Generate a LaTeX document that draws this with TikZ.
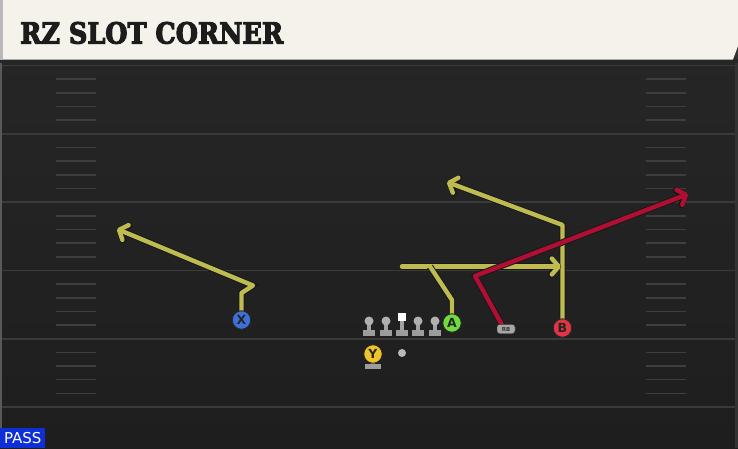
\documentclass[tikz,border=0pt]{standalone}
\usepackage{graphicx}
\usepackage{fontspec}
\setmainfont{DejaVu Sans}
\newfontfamily\titlefont[BoldFeatures={FakeBold=4}]{DejaVu Serif}
\usetikzlibrary{arrows.meta}
\definecolor{fieldtop}{RGB}{39,39,39}
\definecolor{fieldbot}{RGB}{30,30,30}
\definecolor{titlebg}{RGB}{244,242,234}
\definecolor{titlefg}{RGB}{28,28,28}
\definecolor{yardcol}{RGB}{58,58,58}
\definecolor{hashcol}{RGB}{62,62,62}
\definecolor{routeyel}{RGB}{190,187,80}
\definecolor{routered}{RGB}{176,14,50}
\definecolor{passblue}{RGB}{14,46,214}
\definecolor{xblue}{RGB}{62,112,218}
\definecolor{ygold}{RGB}{240,196,40}
\definecolor{agreen}{RGB}{112,218,62}
\definecolor{bred}{RGB}{226,52,66}
\begin{document}
\begin{tikzpicture}[x=1pt,y=-1pt,
  yard/.style={draw=yardcol, line width=1.8pt},
  hash/.style={draw=hashcol, line width=1.6pt},
  route/.style={draw=#1, line width=4.4pt, line join=round, line cap=round,
    preaction={draw=black!90, line width=6.4pt}},
  tip/.style={-{Straight Barb[length=7pt,width=16pt,round]}},
  player/.style={circle, fill=#1, draw=black!85, line width=0.9pt, minimum size=18.5pt,
    inner sep=0pt, font=\bfseries\fontsize{12.5}{12.5}\selectfont, text=black!85},
  head/.style={circle, fill=gray!62, minimum size=9pt, inner sep=0pt},
  basecol/.style={fill=gray!78}
]
\useasboundingbox (0,0) rectangle (738,448);
% field
\shade[top color=fieldtop, bottom color=fieldbot] (0,0) rectangle (738,448);
\fill[black!65] (0,59) rectangle (2,448);
\fill[black!80] (735,0) rectangle (738,448);
% title bar
\fill[black!85] (0,59) rectangle (738,63);
\fill[titlebg] (2,0) -- (738,0) -- (738,46) -- (733,59.5) -- (2,59.5) -- cycle;
\fill[gray!55] (0,0) rectangle (2.5,59.5);
\node[anchor=base west, inner sep=0pt, text=titlefg] (title) at (20,43.5)
  {\resizebox{263pt}{21.5pt}{\titlefont\bfseries RZ SLOT CORNER}};
% yard lines and hashes
\foreach \k in {0,...,5} {
  \draw[yard] (2,65.5+68.3*\k) -- (735,65.5+68.3*\k);
}
\foreach \k in {0,...,4} {
  \foreach \j in {1,...,4} {
    \draw[hash] (56,65.5+68.3*\k+13.66*\j) -- (96,65.5+68.3*\k+13.66*\j);
    \draw[hash] (646,65.5+68.3*\k+13.66*\j) -- (686,65.5+68.3*\k+13.66*\j);
  }
}
% PASS tag
\node[fill=passblue, text=white, anchor=south west, minimum width=45pt, minimum height=20pt,
  inner sep=0pt, font=\fontsize{15}{15}\selectfont] (pass) at (0,448) {PASS};
% players
\node[player=xblue] (X) at (241.5,320) {X};
\node[player=agreen] (A) at (452,323) {A};
\node[player=bred] (B) at (562.5,328) {B};
\node[draw=black!85, fill=gray!70, rounded corners=2.5pt, minimum width=18pt, minimum height=9pt,
  inner sep=0pt, font=\bfseries\fontsize{5.5}{5.5}\selectfont, text=black!80] (RB) at (506,329) {RB};
% routes
\coordinate (x1) at (241.5,293);
\coordinate (x2) at (253,285.5);
\coordinate (x3) at (117,229);
\coordinate (b1) at (562.5,225);
\coordinate (b2) at (447,182);
\coordinate (a1) at (452,300);
\coordinate (a2) at (430,266.5);
\coordinate (h0) at (402,266.5);
\coordinate (h1) at (561,266.5);
\coordinate (r0) at (502,325);
\coordinate (r1) at (475,276);
\coordinate (r2) at (688,194);
\draw[route=routeyel, tip] (X.north) -- (x1) -- (x2) -- (x3);
\draw[route=routeyel, tip] (B.north) -- (b1) -- (b2);
\draw[route=routeyel, tip] (h0) -- (h1);
\draw[route=routeyel] (A.north) -- (a1) -- (a2);
\draw[route=routered, tip] (r0) -- (r1) -- (r2);
% redraw player circles on top
\node[player=xblue] at (X) {X};
\node[player=agreen] at (A) {A};
\node[player=bred] at (B) {B};
\node[draw=black!85, fill=gray!70, rounded corners=2.5pt, minimum width=18pt, minimum height=9pt,
  inner sep=0pt, font=\bfseries\fontsize{5.5}{5.5}\selectfont, text=black!80] at (RB) {RB};
% offensive line
\foreach \n/\x in {LT/369,LG/386,RG/418,RT/435} {
  \fill[basecol] (\x-6,330) rectangle (\x+6,335.5);
  \fill[gray!72] (\x-2,323) rectangle (\x+2,330.5);
  \node[head] (\n) at (\x,321) {};
}
\fill[basecol] (395.5,330) rectangle (407.5,335.5);
\fill[gray!72] (399.5,321) rectangle (403.5,330.5);
\node[fill=white, minimum size=8pt, inner sep=0pt] (C) at (401.5,317) {};
% Y and ball
\fill[basecol] (365,363.5) rectangle (381,368.5);
\fill[gray!72] (371,360) rectangle (375,364);
\node[player=ygold] (Y) at (373,354) {Y};
\node[circle, fill=gray!55, minimum size=8pt, inner sep=0pt] (ball) at (402,353) {};
\end{tikzpicture}
\end{document}
